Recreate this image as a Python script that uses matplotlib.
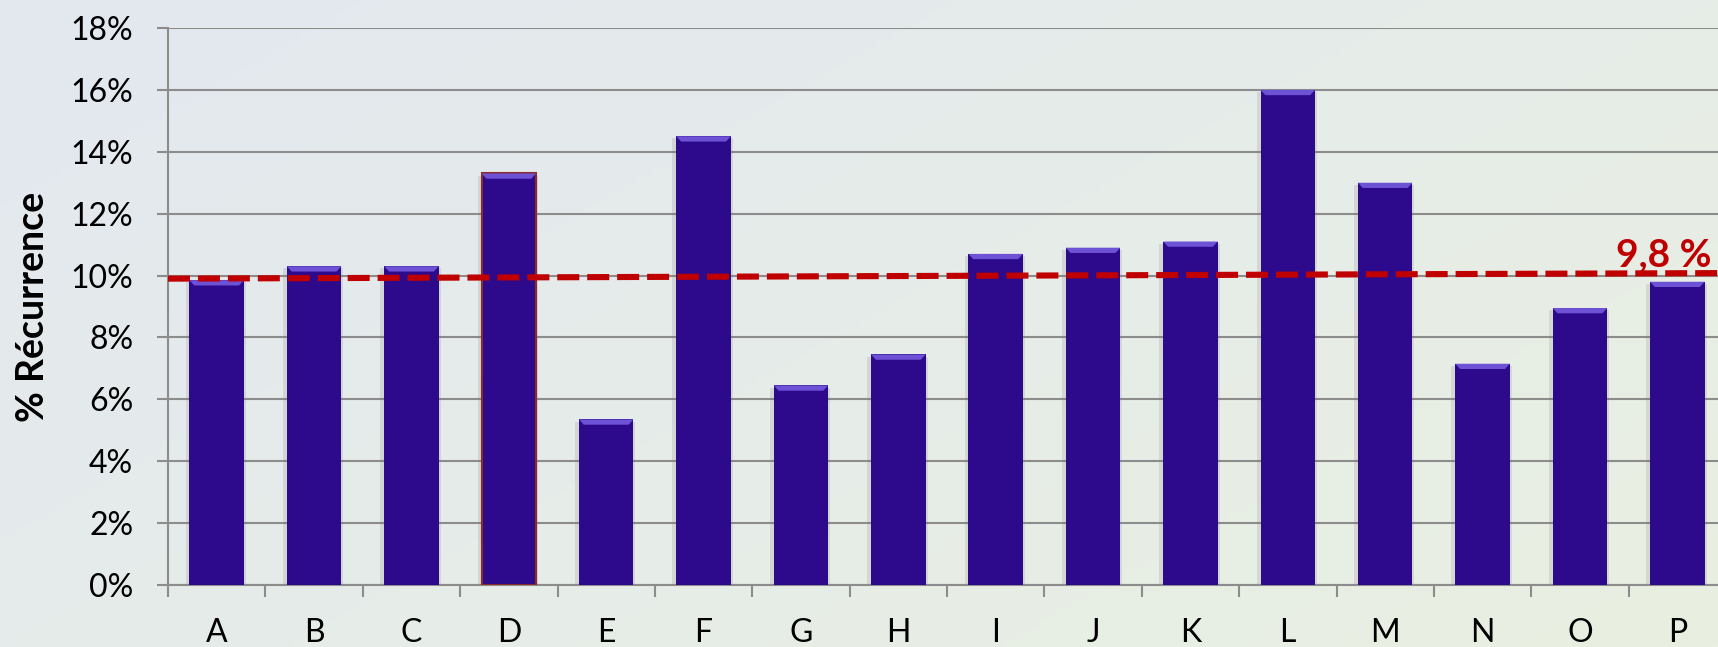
#!/usr/bin/env python3
import numpy as np
import matplotlib
matplotlib.use("Agg")
import matplotlib.pyplot as plt
from matplotlib.patches import Polygon, Rectangle
from matplotlib.ticker import FuncFormatter, MultipleLocator

categories = ["A", "B", "C", "D", "E", "F", "G", "H",
              "I", "J", "K", "L", "M", "N", "O", "P"]
recurrence = [9.85, 10.3, 10.3, 13.3, 5.35, 14.5, 6.45, 7.45,
              10.7, 10.9, 11.1, 16.0, 13.0, 7.15, 8.95, 9.8]
highlight = "D"
mean_line = [9.9, 10.08]   # dashed line, left and right ends
mean_label = "9,8 %"

OUT = "out.png"
W, H = 1718, 647

plt.rcParams["font.family"] = ["Lato", "DejaVu Sans"]

BAR = "#2d0a8c"
BEVEL = "#6d52d6"
GRID = "#8c8c8c"
RED = "#c00000"


def main():
    fig = plt.figure(figsize=(W / 100, H / 100), dpi=100)

    # background gradient, bluish top-left to greenish bottom-right
    bg = fig.add_axes([0, 0, 1, 1], zorder=-5)
    yy, xx = np.mgrid[0:1:200j, 0:1:200j]
    t = np.clip((xx * 0.6 + yy * 0.4), 0, 1)[..., None]
    c0 = np.array([227, 232, 240]) / 255
    c1 = np.array([233, 240, 225]) / 255
    bg.imshow(c0 * (1 - t) + c1 * t, aspect="auto", extent=[0, 1, 0, 1], origin="upper")
    bg.axis("off")

    ax = fig.add_axes([168 / W, 62 / H, 1558 / W, 557 / H])
    ax.patch.set_alpha(0)
    x = np.arange(len(categories))
    width = 0.56

    # soft shadow behind bars
    for xi, v in zip(x, recurrence):
        ax.add_patch(Rectangle((xi - width / 2 - 0.04, -0.12), width + 0.06, v + 0.05,
                               color="#7a7a7a", alpha=0.18, lw=0, zorder=2))

    edges = ["#8b2a2a" if c == highlight else "none" for c in categories]
    ax.bar(x, recurrence, width=width, color=BAR, edgecolor=edges, linewidth=1.5, zorder=3)

    # bevelled top of each bar
    bh = 0.17
    inset = 0.05
    for xi, v in zip(x, recurrence):
        l, r = xi - width / 2, xi + width / 2
        ax.add_patch(Polygon([(l, v), (r, v), (r - inset, v - bh), (l + inset, v - bh)],
                             closed=True, color=BEVEL, lw=0, zorder=4))

    ax.plot([-0.5, 15.5], mean_line, color=RED, lw=4.4, dashes=(3.6, 1.3), zorder=5)

    ax.set_xlim(-0.5, 15.5)
    ax.set_ylim(0, 18)
    ax.yaxis.set_major_locator(MultipleLocator(2))
    ax.yaxis.set_major_formatter(FuncFormatter(lambda v, p: "{0:.0f}%".format(v)))
    ax.grid(axis="y", color=GRID, lw=1.5, zorder=0)
    ax.set_axisbelow(True)

    ax.set_xticks(x)
    ax.set_xticklabels(categories)
    ax.set_xticks(np.arange(-0.5, 16, 1), minor=True)
    ax.tick_params(axis="x", which="major", length=0, pad=24, labelsize=23)
    ax.tick_params(axis="x", which="minor", length=8.5, width=1.5, color=GRID)
    ax.tick_params(axis="y", length=8, width=1.5, color=GRID, pad=17, labelsize=23)

    for s in ["top", "right"]:
        ax.spines[s].set_visible(False)
    for s in ["left", "bottom"]:
        ax.spines[s].set_color(GRID)
        ax.spines[s].set_linewidth(1.5)

    ax.set_ylabel("% Récurrence", fontsize=27, fontweight="bold")
    ax.yaxis.set_label_coords(-0.076, 0.5)

    fig.text(0.9965, (H - 266) / H, mean_label, color=RED, fontsize=28,
             fontweight="bold", ha="right", va="baseline")

    fig.savefig(OUT, dpi=100)


if __name__ == "__main__":
    main()
